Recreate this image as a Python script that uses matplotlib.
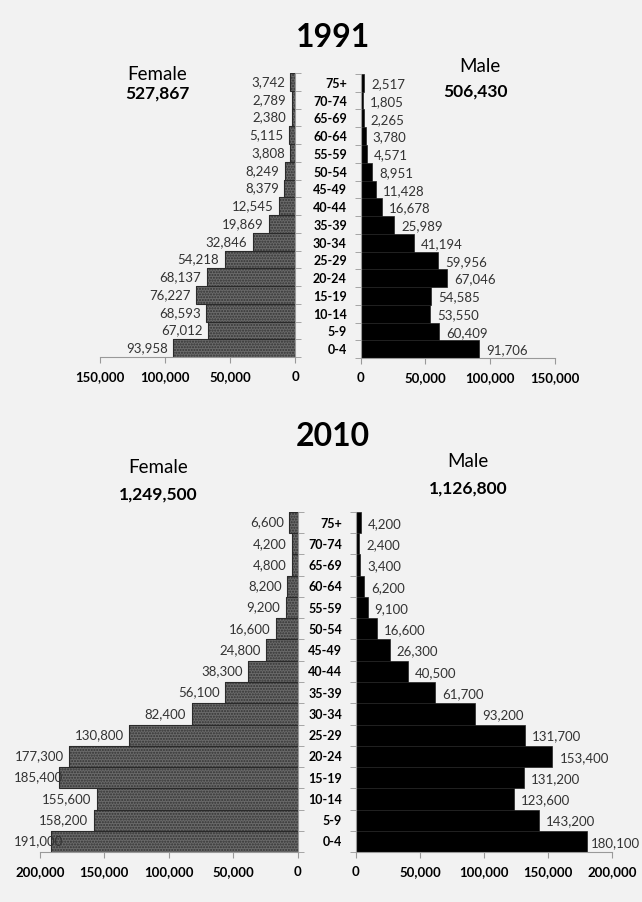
import matplotlib
matplotlib.use("Agg")
import matplotlib.pyplot as plt
from matplotlib.ticker import FuncFormatter

plt.rcParams['font.family'] = ['Lato', 'DejaVu Sans']

# Age groups, youngest first (bottom of pyramid)
ages = ["0-4", "5-9", "10-14", "15-19", "20-24", "25-29", "30-34", "35-39",
        "40-44", "45-49", "50-54", "55-59", "60-64", "65-69", "70-74", "75+"]

female_1991 = [93958, 67012, 68593, 76227, 68137, 54218, 32846, 19869,
               12545, 8379, 8249, 3808, 5115, 2380, 2789, 3742]
male_1991 = [91706, 60409, 53550, 54585, 67046, 59956, 41194, 25989,
             16678, 11428, 8951, 4571, 3780, 2265, 1805, 2517]
female_2010 = [191000, 158200, 155600, 185400, 177300, 130800, 82400, 56100,
               38300, 24800, 16600, 9200, 8200, 4800, 4200, 6600]
male_2010 = [180100, 143200, 123600, 131200, 153400, 131700, 93200, 61700,
             40500, 26300, 16600, 9100, 6200, 3400, 2400, 4200]

female_total_1991 = "527,867"
male_total_1991 = "506,430"
female_total_2010 = "1,249,500"
male_total_2010 = "1,126,800"

BG = "#f2f2f2"
comma = FuncFormatter(lambda v, p: f"{int(v):,}")
value_labels = []


def style_axis(ax, xmax, step, side):
    ax.set_facecolor(BG)
    ax.set_xlim(0, xmax)
    ax.set_ylim(-0.5, len(ages) - 0.5)
    ax.set_xticks(range(0, xmax + 1, step))
    ax.xaxis.set_major_formatter(comma)
    ax.tick_params(axis="x", length=4, width=0.8, color="#999999", pad=6,
                   labelsize=9.5)
    for lab in ax.get_xticklabels():
        lab.set_fontweight("bold")
    ax.spines["top"].set_visible(False)
    ax.spines["bottom"].set_color("#999999")
    other = "left" if side == "right" else "right"
    ax.spines[other].set_visible(False)
    ax.spines[side].set_color("#999999")
    ax.set_yticks([i + 0.5 for i in range(-1, len(ages))], minor=True)
    ax.tick_params(axis="y", which="minor", length=4, color="#999999",
                   left=(side == "left"), right=(side == "right"))
    if side == "right":
        ax.invert_xaxis()


def female_panel(ax, values, xmax, step):
    ax.barh(range(len(values)), values, height=1.0, color="#6a6a6a",
            edgecolor="#333333", hatch="......", linewidth=0)
    ax.barh(range(len(values)), values, height=1.0, fill=False,
            edgecolor="#2a2a2a", linewidth=0.8)
    style_axis(ax, xmax, step, "right")
    ax.set_yticks([])
    for i, v in enumerate(values):
        t = ax.annotate(f"{v:,}", (v, i), xytext=(-4, 0),
                        textcoords="offset points", ha="right", va="center",
                        fontsize=9.5, color="#333333")
        value_labels.append(t)


def male_panel(ax, values, xmax, step):
    ax.barh(range(len(values)), values, height=1.0, color="black",
            edgecolor="#222222", linewidth=0.5)
    style_axis(ax, xmax, step, "left")
    ax.set_yticks(range(len(ages)))
    ax.set_yticklabels(ages, fontsize=9, fontweight="bold")
    ax.tick_params(axis="y", which="major", length=0, pad=10)
    for i, v in enumerate(values):
        t = ax.annotate(f"{v:,}", (v, i), xytext=(5, -1),
                        textcoords="offset points", ha="left", va="center",
                        fontsize=9.5, color="#333333")
        value_labels.append(t)


fig = plt.figure(figsize=(6.42, 9.02), dpi=100, facecolor=BG)

# 1991
ax_f91 = fig.add_axes([0.156, 0.604, 0.304, 0.315])
ax_m91 = fig.add_axes([0.562, 0.603, 0.302, 0.315])
female_panel(ax_f91, female_1991, 150000, 50000)
male_panel(ax_m91, male_1991, 150000, 50000)

# 2010
ax_f10 = fig.add_axes([0.062, 0.0554, 0.402, 0.377])
ax_m10 = fig.add_axes([0.5545, 0.0554, 0.399, 0.377])
female_panel(ax_f10, female_2010, 200000, 50000)
male_panel(ax_m10, male_2010, 200000, 50000)

# titles and totals
fig.text(0.519, 0.958, "1991", ha="center", va="center", fontsize=23,
         fontweight="bold")
fig.text(0.245, 0.917, "Female", ha="center", va="center", fontsize=13.5)
fig.text(0.245, 0.896, female_total_1991, ha="center", va="center",
         fontsize=12.5, fontweight="bold")
fig.text(0.748, 0.926, "Male", ha="center", va="center", fontsize=13.5)
fig.text(0.740, 0.898, male_total_1991, ha="center", va="center",
         fontsize=12.5, fontweight="bold")

fig.text(0.519, 0.516, "2010", ha="center", va="center", fontsize=23,
         fontweight="bold")
fig.text(0.246, 0.482, "Female", ha="center", va="center", fontsize=13.5)
fig.text(0.246, 0.452, female_total_2010, ha="center", va="center",
         fontsize=12.5, fontweight="bold")
fig.text(0.729, 0.488, "Male", ha="center", va="center", fontsize=13.5)
fig.text(0.729, 0.458, male_total_2010, ha="center", va="center",
         fontsize=12.5, fontweight="bold")

# keep value labels inside the picture (they overlap the bar like the original)
fig.canvas.draw()
renderer = fig.canvas.get_renderer()
width_px = fig.bbox.width
for t in value_labels:
    bb = t.get_window_extent(renderer)
    dx, dy = t.xyann
    if bb.x0 < 14:
        t.xyann = (dx + (14 - bb.x0) * 72 / fig.dpi, dy)
    elif bb.x1 > width_px - 2:
        t.xyann = (dx - (bb.x1 - width_px + 2) * 72 / fig.dpi, dy)

fig.savefig("out.png", dpi=100, facecolor=BG)
